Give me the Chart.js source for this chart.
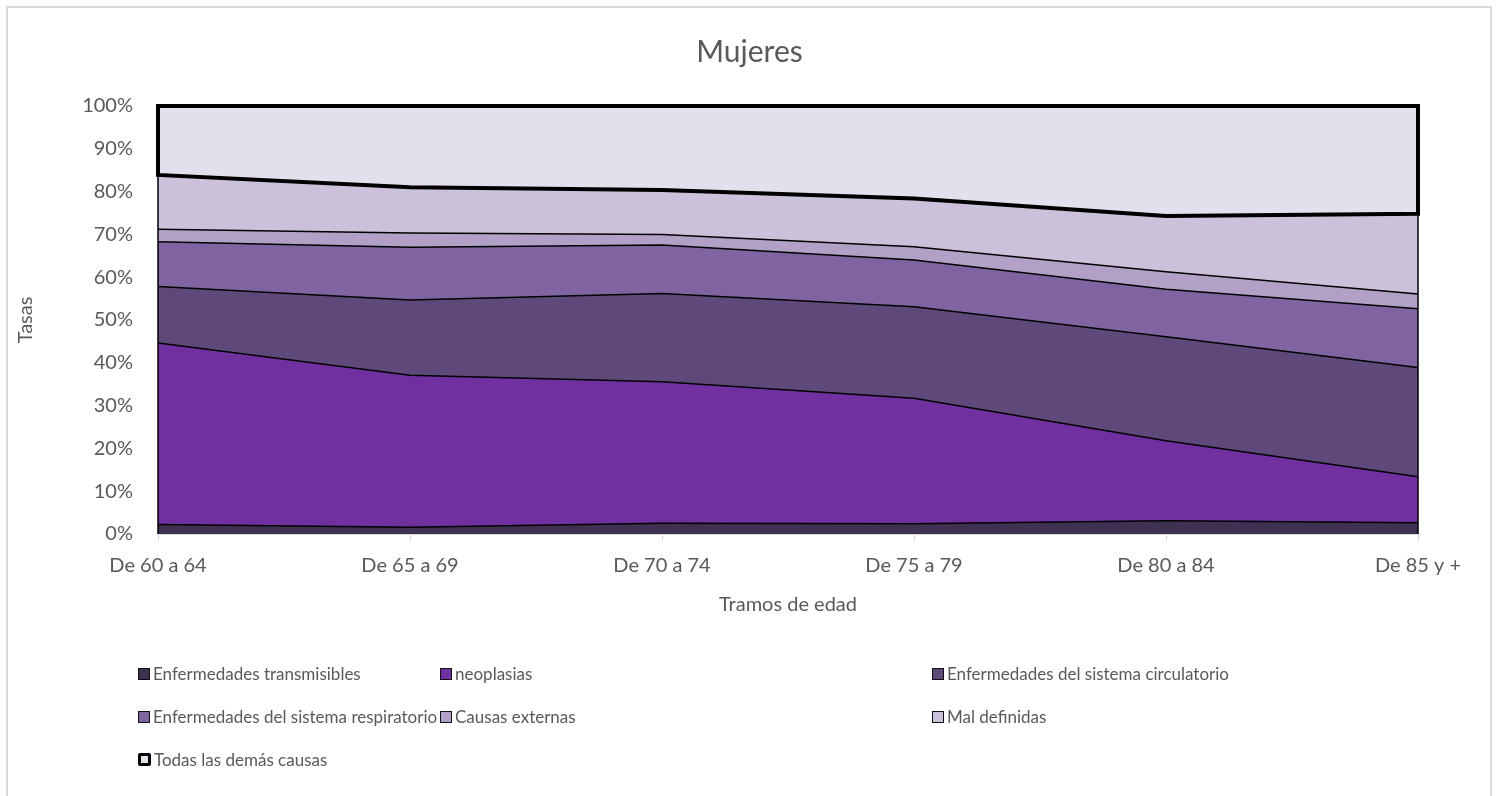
<!DOCTYPE html>
<html lang="es">
<head>
  <meta charset="UTF-8" />
  <title>Mujeres</title>
  <script src="https://cdn.jsdelivr.net/npm/chart.js"></script>
  <style>
    body { margin: 0; background: #fff; font-family: 'Lato', sans-serif; }
    #wrap { position: relative; width: 1499px; height: 796px; overflow: hidden; }
    #frame { position: absolute; left: 6px; top: 6px; width: 1486px; height: 820px; border: 2px solid #d9d9d9; box-sizing: border-box; pointer-events: none; }
    #legend {
      position: absolute; left: 138px; top: 652px;
      display: grid; grid-template-columns: 302px 492px auto; grid-auto-rows: 43px;
      color: #595959; font-size: 17px;
    }
    .item { display: flex; align-items: center; white-space: nowrap; }
    .box { width: 10px; height: 10px; border: 1.5px solid #111; margin-right: 3px; flex: none; }
  </style>
</head>
<body>
  <div id="wrap">
    <canvas id="chart"></canvas>
    <div id="legend"></div>
    <div id="frame"></div>
  </div>

  <script>
    const categories = ['De 60 a 64', 'De 65 a 69', 'De 70 a 74', 'De 75 a 79', 'De 80 a 84', 'De 85 y +'];
    const seriesNames = [
      'Enfermedades transmisibles', 'neoplasias', 'Enfermedades del sistema circulatorio',
      'Enfermedades del sistema respiratorio', 'Causas externas', 'Mal definidas', 'Todas las demás causas'
    ];
    const transmisibles = [2.2, 1.6, 2.5, 2.4, 3.1, 2.6];
    const neoplasias = [42.4, 35.5, 33.1, 29.3, 18.7, 10.8];
    const circulatorio = [13.2, 17.6, 20.6, 21.4, 24.3, 25.5];
    const respiratorio = [10.5, 12.3, 11.3, 10.9, 11.1, 13.7];
    const externas = [2.9, 3.3, 2.5, 3.1, 4.1, 3.5];
    const malDefinidas = [12.7, 10.7, 10.4, 11.3, 13.0, 18.7];
    const demas = [16.1, 19.0, 19.6, 21.6, 25.7, 25.2];
    const yTicks = [0, 10, 20, 30, 40, 50, 60, 70, 80, 90, 100];

    const colors = ['#3f3151', '#7030a0', '#5f497a', '#8064a2', '#b2a1c7', '#ccc1da', '#e4dfec'];
    const series = [transmisibles, neoplasias, circulatorio, respiratorio, externas, malDefinidas, demas];

    // 100% stacked: turn each column into shares
    const totals = categories.map((_, i) => series.reduce((s, d) => s + d[i], 0));
    const shares = series.map(d => d.map((v, i) => v / totals[i] * 100));

    const datasets = shares.map((d, k) => ({
      label: seriesNames[k],
      data: d,
      backgroundColor: colors[k],
      borderColor: '#000',
      borderWidth: k === series.length - 1 ? 0 : 1.5,
      fill: k === 0 ? 'origin' : '-1',
      pointRadius: 0,
      tension: 0
    }));

    // Excel-style outline around the last area
    const outline = {
      id: 'outline',
      afterDatasetsDraw(chart) {
        const n = chart.data.datasets.length;
        const top = chart.getDatasetMeta(n - 1).data;
        const bot = chart.getDatasetMeta(n - 2).data;
        const y0 = chart.scales.y.getPixelForValue(0);
        const ctx = chart.ctx;
        ctx.save();
        ctx.strokeStyle = '#000';
        ctx.lineWidth = 1.5;
        [0, bot.length - 1].forEach(i => {
          ctx.beginPath();
          ctx.moveTo(bot[i].x, y0);
          ctx.lineTo(bot[i].x, bot[i].y);
          ctx.stroke();
        });
        ctx.lineWidth = 4;
        ctx.lineJoin = 'miter';
        ctx.beginPath();
        top.forEach((p, i) => i ? ctx.lineTo(p.x, p.y) : ctx.moveTo(p.x, p.y));
        for (let i = bot.length - 1; i >= 0; i--) ctx.lineTo(bot[i].x, bot[i].y);
        ctx.closePath();
        ctx.stroke();
        ctx.restore();
      }
    };

    Chart.defaults.font.family = "'Lato', sans-serif";
    Chart.defaults.color = '#595959';

    new Chart(document.getElementById('chart'), {
      type: 'line',
      data: { labels: categories, datasets: datasets },
      options: {
        responsive: true,
        maintainAspectRatio: false,
        animation: false,
        layout: { padding: { left: 10, right: 10, top: 0, bottom: 170 } },
        scales: {
          x: {
            offset: false,
            grid: { display: true, drawOnChartArea: false, drawTicks: true, tickLength: 7, color: '#d9d9d9' },
            border: { display: true, color: '#d9d9d9' },
            ticks: { font: { size: 20 }, padding: 13, maxRotation: 0, autoSkip: false },
            title: { display: true, text: 'Tramos de edad', font: { size: 20 }, padding: { top: 4, bottom: 9 } },
            afterFit: s => { s.height = 92; }
          },
          y: {
            stacked: true,
            min: 0,
            max: 100,
            afterBuildTicks: s => { s.ticks = yTicks.map(v => ({ value: v })); },
            grid: { display: false },
            border: { display: false },
            ticks: { font: { size: 20 }, padding: 17, callback: v => v + '%' },
            title: { display: true, text: 'Tasas', font: { size: 20 }, padding: { top: 4, bottom: 0 } },
            afterFit: s => { s.width = 148; }
          },
          // empty right-hand box so the plot ends where the reference does
          spacer: {
            type: 'linear',
            position: 'right',
            grid: { display: false },
            border: { display: false },
            ticks: { display: false },
            afterFit: s => { s.width = 71; }
          }
        },
        plugins: {
          legend: { display: false },
          tooltip: { enabled: false },
          title: {
            display: true,
            text: 'Mujeres',
            font: { size: 30, weight: 'normal' },
            color: '#595959',
            padding: { top: 34, bottom: 36 }
          }
        }
      },
      plugins: [outline]
    });

    const legend = document.getElementById('legend');
    seriesNames.forEach((name, k) => {
      const item = document.createElement('div');
      item.className = 'item';
      const box = document.createElement('span');
      box.className = 'box';
      box.style.background = colors[k];
      if (k === seriesNames.length - 1) {
        box.style.border = '3px solid #000';
        box.style.borderRadius = '2px';
        box.style.width = '7px';
        box.style.height = '7px';
      }
      item.appendChild(box);
      item.appendChild(document.createTextNode(name));
      legend.appendChild(item);
    });
  </script>
</body>
</html>
